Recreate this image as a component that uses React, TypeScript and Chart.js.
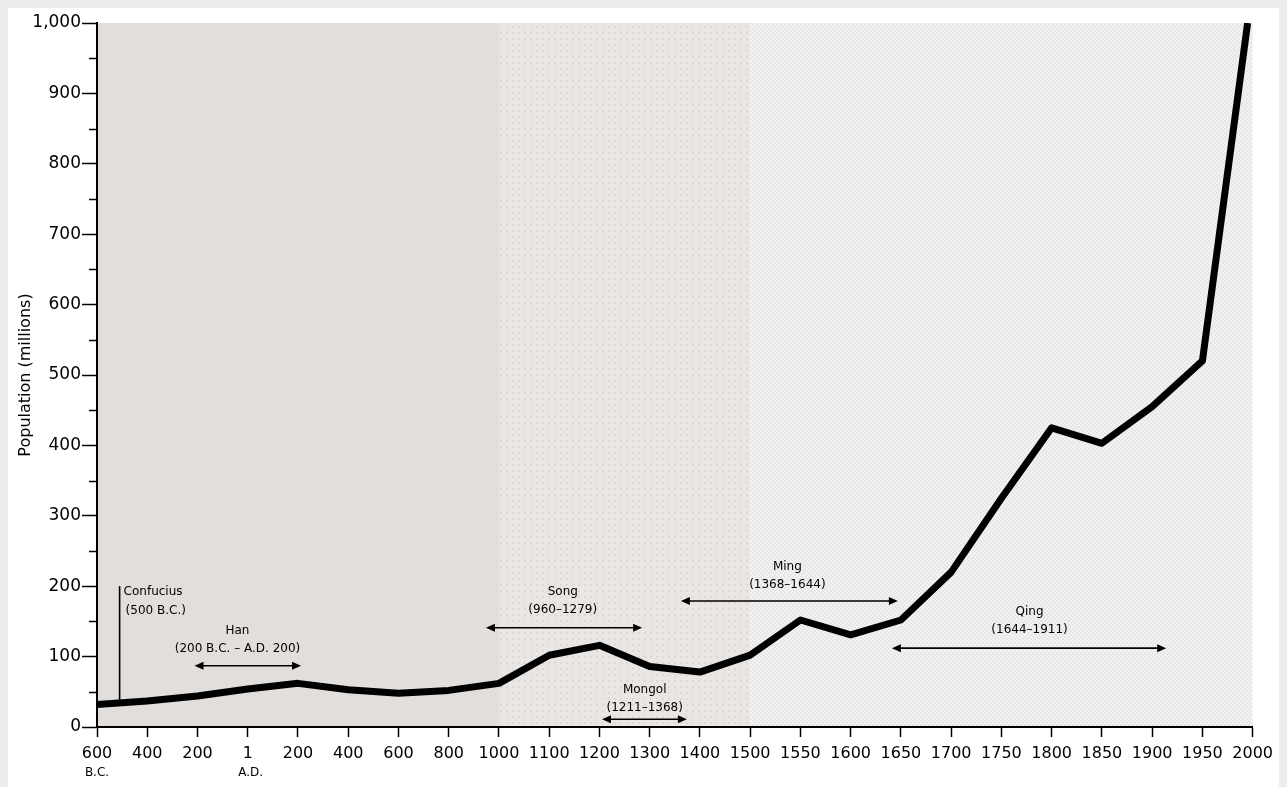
import React, { useEffect, useRef } from 'react';
import { Chart, registerables } from 'chart.js';

Chart.register(...registerables);

// ---- axis ticks (x axis is piecewise: each tick is equally spaced) ----
const tickYears = [-600, -400, -200, 1, 200, 400, 600, 800, 1000, 1100, 1200, 1300, 1400, 1500, 1550, 1600, 1650, 1700, 1750, 1800, 1850, 1900, 1950, 2000];
const tickLabels = ['600', '400', '200', '1', '200', '400', '600', '800', '1000', '1100', '1200', '1300', '1400', '1500', '1550', '1600', '1650', '1700', '1750', '1800', '1850', '1900', '1950', '2000'];
const eraLabels = ['B.C.', '', '', 'A.D.', '', '', '', '', '', '', '', '', '', '', '', '', '', '', '', '', '', '', '', ''];

// ---- population series (millions) ----
const popYears = [-600, -400, -200, 1, 200, 400, 600, 800, 1000, 1100, 1200, 1300, 1400, 1500, 1550, 1600, 1650, 1700, 1750, 1800, 1850, 1900, 1950, 1995];
const popMillions = [32, 37, 44, 54, 62, 53, 48, 52, 62, 102, 116, 86, 78, 102, 152, 131, 152, 220, 325, 425, 403, 455, 520, 1000];

// ---- background bands ----
const bandStart = [-600, 1000, 1500];
const bandEnd = [1000, 1500, 2000];

// ---- dynasties ----
const dynastyNames = ['Han', 'Song', 'Mongol', 'Ming', 'Qing'];
const dynastyPeriods = ['(200 B.C. – A.D. 200)', '(960–1279)', '(1211–1368)', '(1368–1644)', '(1644–1911)'];
const dynastyStart = [-200, 960, 1211, 1368, 1644];
const dynastyEnd = [200, 1279, 1368, 1644, 1911];
// annotation anchors (in data units)
const dynastyArrowValue = [87, 141, 11, 179, 112];
const dynastyLabelYear = [-40, 1127, 1290, 1537, 1778];
const dynastyLabelValue = [136, 192, 53, 227, 163];

// Confucius marker
const confuciusYear = -510;
const confuciusTop = 200;
const confuciusText = ['Confucius', '(500 B.C.)'];

function yearToIdx(year: number): number {
  for (let i = 0; i < tickYears.length - 1; i++) {
    if (year <= tickYears[i + 1] || i === tickYears.length - 2) {
      return i + (year - tickYears[i]) / (tickYears[i + 1] - tickYears[i]);
    }
  }
  return tickYears.length - 1;
}

function popAt(year: number): number {
  for (let i = 0; i < popYears.length - 1; i++) {
    if (year <= popYears[i + 1]) {
      const t = (year - popYears[i]) / (popYears[i + 1] - popYears[i]);
      return popMillions[i] + t * (popMillions[i + 1] - popMillions[i]);
    }
  }
  return popMillions[popMillions.length - 1];
}

const FONT = '"DejaVu Sans", "Liberation Sans", sans-serif';

function makePattern(ctx: CanvasRenderingContext2D, kind: number): CanvasPattern | string {
  const c = document.createElement('canvas');
  if (kind === 1) {
    c.width = 6; c.height = 6;
    const g = c.getContext('2d')!;
    g.fillStyle = '#e9e6e4';
    g.fillRect(0, 0, 6, 6);
    g.fillStyle = '#ddd9d7';
    g.fillRect(0, 0, 2, 2);
    return ctx.createPattern(c, 'repeat') || '#e6e3e1';
  }
  c.width = 4; c.height = 4;
  const g = c.getContext('2d')!;
  g.fillStyle = '#f3f2f1';
  g.fillRect(0, 0, 4, 4);
  g.fillStyle = '#e9e7e6';
  g.fillRect(0, 0, 2, 2);
  g.fillRect(2, 2, 2, 2);
  return ctx.createPattern(c, 'repeat') || '#efeeed';
}

function arrowHead(ctx: CanvasRenderingContext2D, tipX: number, y: number, dir: number) {
  ctx.beginPath();
  ctx.moveTo(tipX, y);
  ctx.lineTo(tipX + dir * 9, y - 4);
  ctx.lineTo(tipX + dir * 9, y + 4);
  ctx.closePath();
  ctx.fill();
}

const overlayPlugin = {
  id: 'overlay',
  beforeDraw(chart: any) {
    const { ctx, chartArea } = chart;
    const xs = chart.scales.x;
    ctx.save();
    for (let i = 0; i < bandStart.length; i++) {
      const x1 = xs.getPixelForValue(yearToIdx(bandStart[i]));
      const x2 = xs.getPixelForValue(yearToIdx(bandEnd[i]));
      ctx.fillStyle = i === 0 ? '#e2dedc' : makePattern(ctx, i);
      ctx.fillRect(x1, chartArea.top, x2 - x1, chartArea.bottom - chartArea.top);
    }
    ctx.restore();
  },
  afterDatasetsDraw(chart: any) {
    const { ctx } = chart;
    const xs = chart.scales.x;
    const ys = chart.scales.y;
    ctx.save();
    ctx.fillStyle = '#000';
    ctx.strokeStyle = '#000';
    ctx.font = `12px ${FONT}`;
    ctx.textBaseline = 'middle';

    // Confucius vertical marker
    const cx = xs.getPixelForValue(yearToIdx(confuciusYear));
    const cTop = ys.getPixelForValue(confuciusTop);
    const cBot = ys.getPixelForValue(popAt(confuciusYear));
    ctx.lineWidth = 1.6;
    ctx.beginPath();
    ctx.moveTo(cx, cTop);
    ctx.lineTo(cx, cBot);
    ctx.stroke();
    ctx.textAlign = 'left';
    ctx.fillText(confuciusText[0], cx + 4, cTop + 6);
    ctx.fillText(confuciusText[1], cx + 6, cTop + 25);

    // dynasty spans
    ctx.textAlign = 'center';
    for (let i = 0; i < dynastyNames.length; i++) {
      const x1 = xs.getPixelForValue(yearToIdx(dynastyStart[i]));
      const x2 = xs.getPixelForValue(yearToIdx(dynastyEnd[i]));
      const y = ys.getPixelForValue(dynastyArrowValue[i]);
      ctx.lineWidth = 1.6;
      ctx.beginPath();
      ctx.moveTo(x1 + 4, y);
      ctx.lineTo(x2 - 4, y);
      ctx.stroke();
      arrowHead(ctx, x1 - 3, y, 1);
      arrowHead(ctx, x2 + 3, y, -1);
      const lx = xs.getPixelForValue(yearToIdx(dynastyLabelYear[i]));
      const ly = ys.getPixelForValue(dynastyLabelValue[i]);
      ctx.fillText(dynastyNames[i], lx, ly);
      ctx.fillText(dynastyPeriods[i], lx, ly + 18);
    }
    ctx.restore();
  },
  afterDraw(chart: any) {
    const { ctx, chartArea } = chart;
    const xs = chart.scales.x;
    const ys = chart.scales.y;
    ctx.save();
    // minor y ticks
    ctx.strokeStyle = '#000';
    ctx.lineWidth = 1.5;
    for (let v = 50; v < 1000; v += 100) {
      const y = Math.round(ys.getPixelForValue(v)) + 0.5;
      ctx.beginPath();
      ctx.moveTo(chartArea.left - 8, y);
      ctx.lineTo(chartArea.left, y);
      ctx.stroke();
    }
    // era sub-labels
    ctx.fillStyle = '#000';
    ctx.font = `12px ${FONT}`;
    ctx.textAlign = 'center';
    ctx.textBaseline = 'middle';
    for (let i = 0; i < eraLabels.length; i++) {
      if (!eraLabels[i]) continue;
      const x = xs.getPixelForValue(i);
      ctx.fillText(eraLabels[i], x + (i === 0 ? 0 : 3), chartArea.bottom + 46);
    }
    ctx.restore();
  },
};

export default function App() {
  const ref = useRef<HTMLCanvasElement | null>(null);

  useEffect(() => {
    document.body.style.backgroundColor = '#ededed';
    const canvas = ref.current;
    if (!canvas) return;
    const chart = new Chart(canvas, {
      type: 'line',
      data: {
        datasets: [
          {
            data: popYears.map((yr, i) => ({ x: yearToIdx(yr), y: popMillions[i] })),
            borderColor: '#000',
            borderWidth: 7,
            pointRadius: 0,
            tension: 0,
            fill: false,
            borderJoinStyle: 'round',
            borderCapStyle: 'butt',
          },
        ],
      },
      options: {
        responsive: false,
        animation: false,
        events: [],
        layout: { padding: { top: 15, right: 27, left: 0, bottom: 0 } },
        plugins: { legend: { display: false }, tooltip: { enabled: false } },
        scales: {
          x: {
            type: 'linear',
            min: 0,
            max: tickLabels.length - 1,
            afterFit: (s: any) => { s.height = 60; },
            grid: { drawOnChartArea: false, drawTicks: true, tickLength: 10, color: '#000', tickWidth: 1.5 },
            border: { display: true, color: '#000', width: 2 },
            ticks: {
              stepSize: 1,
              maxTicksLimit: 100,
              autoSkip: false,
              maxRotation: 0,
              minRotation: 0,
              color: '#000',
              padding: 7,
              font: { family: FONT, size: 16 },
              callback: (v: any) => tickLabels[Math.round(Number(v))] ?? '',
            },
          },
          y: {
            min: 0,
            max: 1000,
            afterFit: (s: any) => { s.width = 89; },
            grid: { drawOnChartArea: false, drawTicks: true, tickLength: 15, color: '#000', tickWidth: 1.5 },
            border: { display: true, color: '#000', width: 2 },
            ticks: {
              stepSize: 100,
              color: '#000',
              padding: 1,
              font: { family: FONT, size: 17 },
              callback: (v: any) => Number(v).toLocaleString('en-US'),
            },
            title: {
              display: true,
              text: 'Population (millions)',
              color: '#000',
              font: { family: FONT, size: 16 },
              padding: { top: 8, bottom: 0 },
            },
          },
        },
      },
      plugins: [overlayPlugin],
    } as any);
    return () => chart.destroy();
  }, []);

  return (
    <div style={{ width: 1272, height: 779, background: '#ffffff' }}>
      <canvas ref={ref} width={1272} height={779} style={{ display: 'block' }} />
    </div>
  );
}
